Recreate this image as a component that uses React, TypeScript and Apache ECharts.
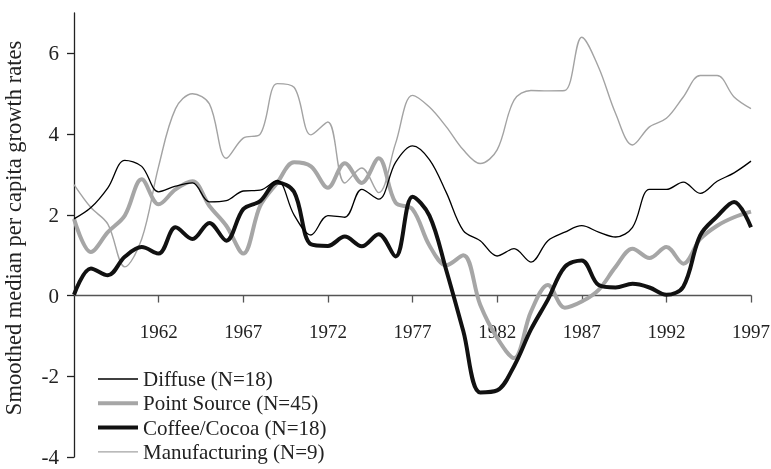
import React, { useEffect, useRef } from "react";
import * as echarts from "echarts";

const years = [
  1957, 1958, 1959, 1960, 1961, 1962, 1963, 1964, 1965, 1966,
  1967, 1968, 1969, 1970, 1971, 1972, 1973, 1974, 1975, 1976,
  1977, 1978, 1979, 1980, 1981, 1982, 1983, 1984, 1985, 1986,
  1987, 1988, 1989, 1990, 1991, 1992, 1993, 1994, 1995, 1996, 1997,
];

const diffuse = [
  1.9, 2.18, 2.67, 3.35, 3.2, 2.57, 2.71, 2.79, 2.32, 2.35,
  2.59, 2.61, 2.85, 2.0, 1.5, 1.98, 1.94, 2.63, 2.39, 3.3,
  3.71, 3.37, 2.55, 1.61, 1.36, 0.98, 1.16, 0.83, 1.36, 1.57,
  1.73, 1.57, 1.45, 1.69, 2.63, 2.63, 2.81, 2.53, 2.83, 3.04, 3.33,
];

const pointSource = [
  1.9, 1.08, 1.57, 1.98, 2.88, 2.26, 2.63, 2.83, 2.22, 1.73,
  1.04, 2.22, 2.79, 3.3, 3.2, 2.67, 3.28, 2.79, 3.4, 2.3,
  2.14, 1.24, 0.75, 1.0, -0.23, -1.05, -1.55, -0.4, 0.26, -0.3,
  -0.15, 0.14, 0.71, 1.16, 0.93, 1.2, 0.79, 1.4, 1.73, 1.94, 2.08,
];

const coffeeCocoa = [
  0.02, 0.67, 0.5, 0.96, 1.2, 1.04, 1.69, 1.4, 1.8, 1.36,
  2.14, 2.34, 2.8, 2.57, 1.27, 1.23, 1.46, 1.22, 1.52, 0.97,
  2.45, 1.98, 0.62, -0.88, -2.4, -2.35, -1.75, -0.84, -0.1, 0.71,
  0.87, 0.26, 0.2, 0.29, 0.2, 0.02, 0.22, 1.49, 1.96, 2.32, 1.69,
];

const manufacturing = [
  2.75, 2.18, 1.77, 0.71, 1.4, 3.2, 4.63, 5.0, 4.75, 3.4,
  3.9, 4.0, 5.25, 5.16, 3.98, 4.3, 2.79, 3.16, 2.55, 3.77,
  4.96, 4.67, 4.18, 3.61, 3.27, 3.61, 4.84, 5.08, 5.07, 5.08,
  6.4, 5.65, 4.51, 3.73, 4.18, 4.39, 4.92, 5.45, 5.45, 4.92, 4.63,
];

const xTickLabels = [1962, 1967, 1972, 1977, 1982, 1987, 1992, 1997];
const yTickLabels = [-4, -2, 0, 2, 4, 6];

const seriesNames = [
  "Diffuse (N=18)",
  "Point Source (N=45)",
  "Coffee/Cocoa (N=18)",
  "Manufacturing (N=9)",
];

const FONT = "Liberation Serif";

const Y_MIN = -4;
const Y_MAX = 7;
const GRID_TOP = 13;
const GRID_BOTTOM = 12;
const HEIGHT = 469;

export default function App() {
  const ref = useRef<HTMLDivElement>(null);

  useEffect(() => {
    if (!ref.current) return;
    const chart = echarts.init(ref.current, undefined, { renderer: "svg" });
    const pair = (vals: number[]) => years.map((y, i) => [y, vals[i]]);
    const styles = [
      { color: "#000000", width: 1.3 },
      { color: "#a6a6a6", width: 4 },
      { color: "#111111", width: 4 },
      { color: "#a3a3a3", width: 1.4 },
    ];
    const datasets = [diffuse, pointSource, coffeeCocoa, manufacturing];
    // distance from the grid bottom up to the y = 0 line, so the x axis sits on zero
    const plotH = HEIGHT - GRID_TOP - GRID_BOTTOM;
    const zeroOffset = (plotH * (0 - Y_MIN)) / (Y_MAX - Y_MIN);
    chart.setOption({
      animation: false,
      textStyle: { fontFamily: FONT },
      grid: {
        left: 74,
        right: 20,
        top: GRID_TOP,
        bottom: GRID_BOTTOM,
        containLabel: false,
        outerBoundsMode: "none",
      },
      legend: {
        orient: "vertical",
        left: 96,
        top: 368,
        padding: 0,
        itemWidth: 40,
        itemHeight: 14,
        itemGap: 2.3,
        data: seriesNames.map((name, i) => ({
          name,
          lineStyle: { color: styles[i].color, width: styles[i].width },
        })),
        itemStyle: { opacity: 0 },
        textStyle: { fontFamily: FONT, fontSize: 21, color: "#222", lineHeight: 22 },
      },
      xAxis: {
        type: "value",
        min: 1957,
        max: 1997,
        interval: 5,
        offset: -zeroOffset,
        splitLine: { show: false },
        axisLine: { show: true, onZero: false, lineStyle: { color: "#555", width: 1.3 } },
        axisTick: {
          show: true,
          length: 7,
          customValues: xTickLabels,
          lineStyle: { color: "#555", width: 1.3 },
        },
        axisLabel: {
          customValues: xTickLabels,
          fontFamily: FONT,
          fontSize: 19,
          color: "#222",
          margin: 26,
          formatter: (v: number) => String(v),
        },
      },
      yAxis: {
        type: "value",
        min: Y_MIN,
        max: Y_MAX,
        interval: 2,
        splitLine: { show: false },
        name: "Smoothed median per capita growth rates",
        nameLocation: "middle",
        nameRotate: 90,
        nameGap: 50,
        nameTextStyle: {
          fontFamily: FONT,
          fontSize: 22.5,
          lineHeight: 22,
          color: "#222",
          padding: [0, 0, 0, 14],
        },
        axisLine: { show: true, lineStyle: { color: "#222", width: 1.3 } },
        axisTick: {
          show: true,
          length: 7,
          customValues: yTickLabels,
          lineStyle: { color: "#222", width: 1.3 },
        },
        axisLabel: {
          customValues: yTickLabels,
          fontFamily: FONT,
          fontSize: 21,
          lineHeight: 14,
          color: "#222",
          margin: 15,
        },
      },
      series: seriesNames.map((name, i) => ({
        name,
        type: "line",
        data: pair(datasets[i]),
        symbol: "none",
        smooth: 0.35,
        z: i === 3 ? 1 : i === 0 ? 4 : 3,
        color: styles[i].color,
        lineStyle: { color: styles[i].color, width: styles[i].width },
      })),
    });
    return () => chart.dispose();
  }, []);

  return (
    <div
      ref={ref}
      style={{ position: "fixed", left: 0, top: 0, width: 771, height: HEIGHT }}
    />
  );
}
